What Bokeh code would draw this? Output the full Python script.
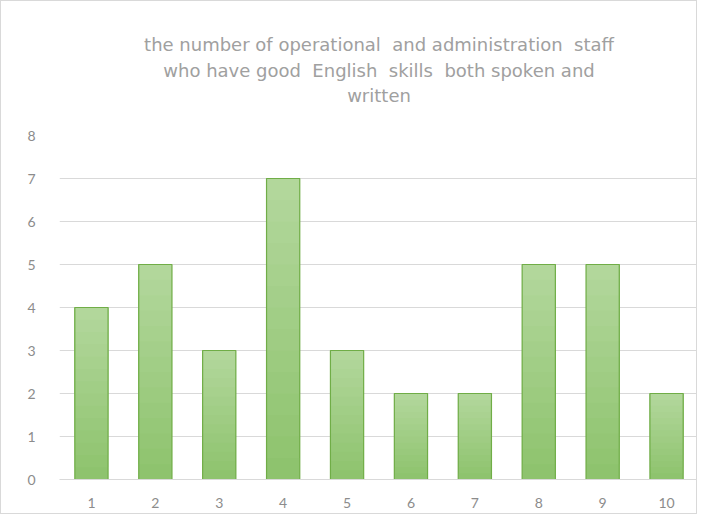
from bokeh.plotting import figure
from bokeh.models import FixedTicker, Title
from bokeh.embed import file_html
from bokeh.resources import INLINE

categories = ["1", "2", "3", "4", "5", "6", "7", "8", "9", "10"]
values = [4, 5, 3, 7, 3, 2, 2, 5, 5, 2]
y_ticks = [0, 1, 2, 3, 4, 5, 6, 7, 8]
title_lines = ["the number of operational\u00a0 and administration\u00a0 staff",
               "who have good\u00a0 English\u00a0 skills\u00a0 both spoken and",
               "written"]

p = figure(x_range=categories, y_range=(0, 8), width=697, height=514,
           output_backend="svg", toolbar_location=None,
           min_border_left=58, min_border_right=0, min_border_top=0, min_border_bottom=36)
p.styles = {"border": "1px solid #d9d9d9"}
p.title.visible = False

# spacer between title and plot
p.add_layout(Title(text=" ", text_font_size="18px", standoff=7), "above")
standoffs = [4, 2, 2]
for line, so in zip(reversed(title_lines), reversed(standoffs)):
    p.add_layout(Title(text=line, align="center", text_font="DejaVu Sans", text_font_size="18px",
                       text_font_style="normal", text_color="#a0a0a0", offset=-7, standoff=so), "above")
# spacer above the title
p.add_layout(Title(text=" ", text_font_size="18px", standoff=6), "above")

# gradient effect: overlapping layers of each bar, light at top, darker at bottom
n = 14
c0 = (0x8e, 0xc3, 0x6e)
c1 = (0xb2, 0xd7, 0x9b)
for i in range(n):
    f = i / (n - 1)
    col = "#%02x%02x%02x" % tuple(int(round(a + (b - a) * f)) for a, b in zip(c0, c1))
    bottoms = [v * i / n for v in values]
    p.vbar(x=categories, bottom=bottoms, top=values, width=0.52, fill_color=col, line_color=None)
p.vbar(x=categories, top=values, width=0.52, fill_color=None, line_color="#70ad47", line_width=1.2)

p.yaxis.ticker = FixedTicker(ticks=y_ticks)
p.xgrid.grid_line_color = None
p.ygrid.grid_line_color = "#d9d9d9"
p.ygrid.grid_line_width = 1
for ax in (p.xaxis, p.yaxis):
    ax.major_label_text_font = "Lato"
    ax.major_label_text_font_size = "14px"
    ax.major_label_text_color = "#8c8c8c"
    ax.major_tick_line_color = None
    ax.minor_tick_line_color = None
p.yaxis.axis_line_color = None
p.xaxis.axis_line_color = "#d9d9d9"
p.yaxis.major_label_standoff = 18
p.xaxis.major_label_standoff = 12
p.outline_line_color = None
p.x_range.range_padding = 0

open("out.html", "w").write(file_html(p, INLINE))
